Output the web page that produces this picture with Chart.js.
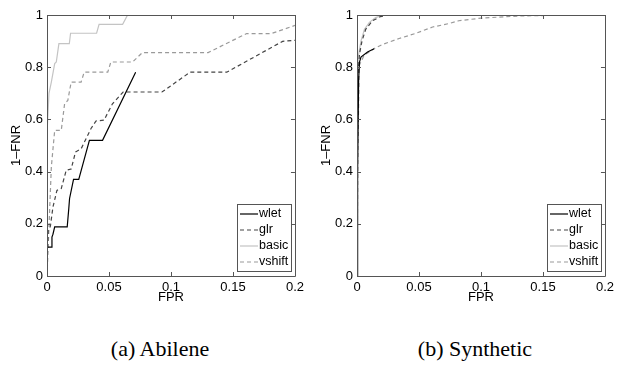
<!DOCTYPE html>
<html>
<head>
<meta charset="utf-8">
<script src="https://cdn.jsdelivr.net/npm/chart.js@4"></script>
<style>
  html, body { margin: 0; padding: 0; background: #fff; }
  body { width: 617px; height: 369px; position: relative; overflow: hidden; }
  .wrap { position: absolute; top: 0; width: 308px; height: 320px; }
  .cap { position: absolute; top: 336px; font-family: "Liberation Serif", "DejaVu Serif", serif; font-size: 22px; color: #000; text-align: center; width: 250px; line-height: 26px; }
</style>
</head>
<body>
<div class="wrap" style="left:0px"><canvas id="c1" width="308" height="320"></canvas></div>
<div class="wrap" style="left:310px"><canvas id="c2" width="308" height="320"></canvas></div>
<div class="cap" style="left:35px">(a) Abilene</div>
<div class="cap" style="left:350px">(b) Synthetic</div>
<script>
// ---- tick labels ----
const xTickLabels = ["0", "0.05", "0.1", "0.15", "0.2"];
const yTickLabels = ["0", "0.2", "0.4", "0.6", "0.8", "1"];
const seriesNames = ["wlet", "glr", "basic", "vshift"];

// ---- (a) Abilene ----
const abWletX = [0, 0, 0.0035, 0.004, 0.0048, 0.0062, 0.0163, 0.0176, 0.0182, 0.0214, 0.0256, 0.0342, 0.0448, 0.0715];
const abWletY = [0, 0.111, 0.111, 0.149, 0.16, 0.188, 0.188, 0.26, 0.297, 0.37, 0.37, 0.52, 0.52, 0.781];
const abGlrX = [0, 0.0005, 0.001, 0.0027, 0.0048, 0.008, 0.0115, 0.0155, 0.0195, 0.023, 0.0276, 0.0355, 0.0395, 0.046, 0.0528, 0.0614, 0.0927, 0.1155, 0.145, 0.19, 0.2];
const abGlrY = [0, 0.12, 0.175, 0.19, 0.264, 0.328, 0.335, 0.405, 0.41, 0.475, 0.488, 0.565, 0.594, 0.597, 0.66, 0.705, 0.705, 0.781, 0.781, 0.899, 0.903];
const abBasicX = [0, 0, 0.0016, 0.0035, 0.0062, 0.0075, 0.0096, 0.018, 0.019, 0.04, 0.042, 0.061, 0.065, 0.2];
const abBasicY = [0, 0.547, 0.7, 0.743, 0.814, 0.82, 0.89, 0.89, 0.93, 0.93, 0.964, 0.964, 1.0, 1.0];
const abVshiftX = [0, 0.0016, 0.0035, 0.0062, 0.0115, 0.0142, 0.0168, 0.0195, 0.0275, 0.03, 0.049, 0.0515, 0.069, 0.077, 0.13, 0.161, 0.181, 0.2];
const abVshiftY = [0, 0.188, 0.418, 0.558, 0.558, 0.66, 0.673, 0.743, 0.743, 0.781, 0.781, 0.82, 0.82, 0.856, 0.856, 0.929, 0.929, 0.96];

// ---- (b) Synthetic ----
const synWletX = [0, 0.0005, 0.0013, 0.002, 0.0032, 0.0085, 0.0138];
const synWletY = [0, 0.4, 0.75, 0.82, 0.839, 0.858, 0.871];
const synGlrX = [0, 0.0003, 0.001, 0.002, 0.004, 0.007, 0.0125, 0.019, 0.025, 0.2];
const synGlrY = [0, 0.5, 0.78, 0.85, 0.9, 0.945, 0.978, 0.994, 1, 1];
const synBasicX = [0, 0.0002, 0.001, 0.0032, 0.006, 0.01, 0.015, 0.021, 0.2];
const synBasicY = [0, 0.6, 0.84, 0.9, 0.945, 0.972, 0.99, 1, 1];
const synVshiftX = [0, 0.0008, 0.0018, 0.0058, 0.0138, 0.0205, 0.034, 0.047, 0.061, 0.074, 0.082, 0.1, 0.13, 0.17, 0.2];
const synVshiftY = [0, 0.5, 0.807, 0.846, 0.871, 0.887, 0.91, 0.929, 0.954, 0.967, 0.978, 0.988, 0.996, 1, 1];

const styles = [
  { color: "#000000", dash: [] },
  { color: "#444444", dash: [4, 3] },
  { color: "#c4c4c4", dash: [] },
  { color: "#9a9a9a", dash: [4, 3] }
];
const FONT = "'Liberation Sans', Arial, Helvetica, sans-serif";
const AXIS_COLOR = "#555555";

function pts(xs, ys) { return xs.map((x, i) => ({ x: x, y: ys[i] })); }

const frameAndTicks = {
  id: "frameAndTicks",
  afterDatasetsDraw(chart) {
    const ctx = chart.ctx, a = chart.chartArea;
    const xs = chart.scales.x, ys = chart.scales.y;
    ctx.save();
    ctx.strokeStyle = AXIS_COLOR;
    ctx.lineWidth = 1;
    ctx.beginPath();
    ctx.rect(Math.round(a.left) + 0.5, Math.round(a.top) + 0.5, Math.round(a.right - a.left), Math.round(a.bottom - a.top));
    ctx.stroke();
    const L = 4;
    ctx.beginPath();
    xs.ticks.forEach(t => {
      const px = Math.round(xs.getPixelForValue(t.value)) + 0.5;
      ctx.moveTo(px, a.bottom); ctx.lineTo(px, a.bottom - L);
      ctx.moveTo(px, a.top); ctx.lineTo(px, a.top + L);
    });
    ys.ticks.forEach(t => {
      const py = Math.round(ys.getPixelForValue(t.value)) + 0.5;
      ctx.moveTo(a.left, py); ctx.lineTo(a.left + L, py);
      ctx.moveTo(a.right, py); ctx.lineTo(a.right - L, py);
    });
    ctx.stroke();
    // legend box (bottom-right inside plot)
    ctx.font = "12.5px " + FONT;
    const ds = chart.data.datasets;
    let tw = 0;
    ds.forEach(d => { tw = Math.max(tw, ctx.measureText(d.label).width); });
    const sample = 18, padL = 3, gap = 1, padR = 3, rowH = 16;
    const bw = padL + sample + gap + tw + padR;
    const bh = rowH * ds.length + 3;
    const bx = Math.round(a.right - 4 - bw), by = Math.round(a.bottom - 5 - bh);
    ctx.fillStyle = "#fff";
    ctx.fillRect(bx, by, bw, bh);
    ctx.strokeStyle = AXIS_COLOR;
    ctx.strokeRect(bx + 0.5, by + 0.5, Math.round(bw), bh);
    ds.forEach((d, i) => {
      const cy = by + 2 + rowH * i + rowH / 2;
      ctx.strokeStyle = d.borderColor;
      ctx.lineWidth = d.borderWidth;
      ctx.setLineDash(d.borderDash || []);
      ctx.beginPath();
      ctx.moveTo(bx + padL, cy); ctx.lineTo(bx + padL + sample, cy);
      ctx.stroke();
      ctx.setLineDash([]);
      ctx.fillStyle = "#000";
      ctx.textBaseline = "middle";
      ctx.textAlign = "left";
      ctx.fillText(d.label, bx + padL + sample + gap, cy);
    });
    ctx.restore();
  }
};

function makeChart(id, seriesX, seriesY) {
  const datasets = seriesNames.map((name, i) => ({
    label: name,
    data: pts(seriesX[i], seriesY[i]),
    borderColor: styles[i].color,
    borderDash: styles[i].dash,
    borderWidth: 1.2,
    pointRadius: 0,
    showLine: true,
    fill: false,
    tension: 0
  }));
  const ordered = [datasets[2], datasets[3], datasets[1], datasets[0]];
  ordered.forEach((d, k) => d.order = 4 - k);
  return new Chart(document.getElementById(id), {
    type: "scatter",
    data: { datasets: datasets },
    options: {
      responsive: false,
      animation: false,
      events: [],
      layout: { padding: { left: 0, top: 15, right: 11, bottom: 0 } },
      plugins: { legend: { display: false }, tooltip: { enabled: false } },
      scales: {
        x: {
          type: "linear", min: 0, max: 0.2,
          afterBuildTicks(s) { s.ticks = xTickLabels.map(v => ({ value: parseFloat(v) })); },
          afterFit(s) { s.height = 44; },
          grid: { display: false, drawTicks: false },
          border: { display: false },
          ticks: {
            padding: 4, color: "#000", maxRotation: 0, autoSkip: false,
            font: { family: FONT, size: 13 },
            callback: (v, i) => xTickLabels[i]
          },
          title: { display: true, text: "FPR", color: "#000", font: { family: FONT, size: 13 }, padding: { top: 0, bottom: 15 } }
        },
        y: {
          type: "linear", min: 0, max: 1,
          afterBuildTicks(s) { s.ticks = yTickLabels.map(v => ({ value: parseFloat(v) })); },
          afterFit(s) { s.width = 47; },
          grid: { display: false, drawTicks: false },
          border: { display: false },
          ticks: {
            padding: 4, color: "#000", autoSkip: false,
            font: { family: FONT, size: 13 },
            callback: (v, i) => yTickLabels[i]
          },
          title: { display: true, text: "1\u2013FNR", color: "#000", font: { family: FONT, size: 13 }, padding: { top: 9, bottom: 0 } }
        }
      }
    },
    plugins: [frameAndTicks]
  });
}

makeChart("c1", [abWletX, abGlrX, abBasicX, abVshiftX], [abWletY, abGlrY, abBasicY, abVshiftY]);
makeChart("c2", [synWletX, synGlrX, synBasicX, synVshiftX], [synWletY, synGlrY, synBasicY, synVshiftY]);
</script>
</body>
</html>
